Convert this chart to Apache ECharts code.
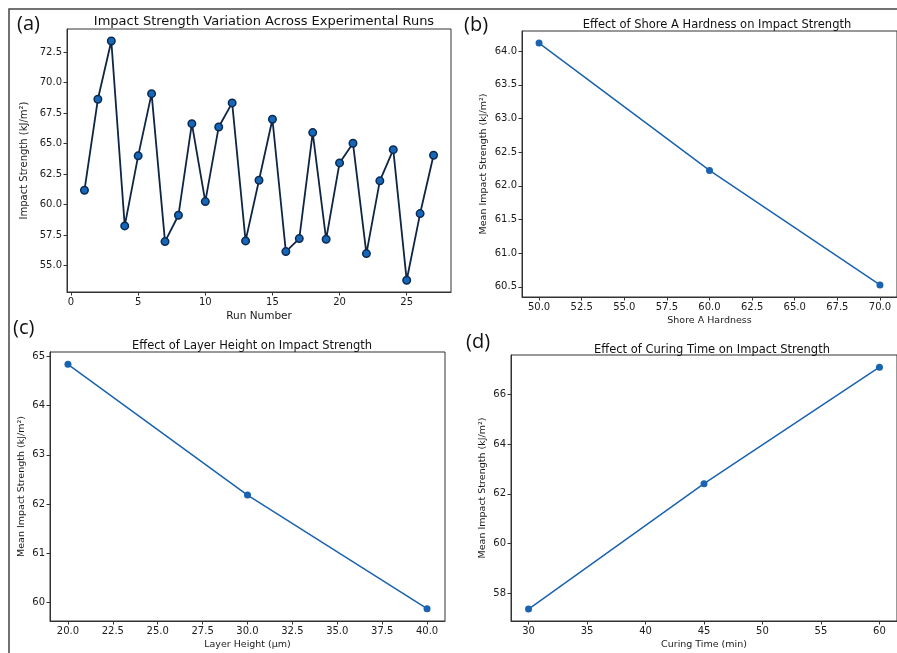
<!DOCTYPE html>
<html>
<head>
<meta charset="utf-8">
<script src="https://cdn.jsdelivr.net/npm/echarts@6/dist/echarts.min.js"></script>
<style>
  html, body { margin: 0; padding: 0; background: #fff; }
  #main { width: 897px; height: 653px; }
</style>
</head>
<body>
<div id="main"></div>
<script>
// (a) impact strength per run
var runNumbers = [1,2,3,4,5,6,7,8,9,10,11,12,13,14,15,16,17,18,19,20,21,22,23,24,25,26,27];
var runStrength = [61.16,68.62,73.40,58.24,63.98,69.08,56.95,59.11,66.62,60.23,66.35,68.32,57.01,61.98,
                   66.98,56.13,57.20,65.89,57.14,63.40,65.01,55.97,61.93,64.49,53.78,59.25,64.03];
var runXTicks = [0,5,10,15,20,25];
var runYTicks = [55,57.5,60,62.5,65,67.5,70,72.5];

// (b) shore A hardness
var hardness = [50,60,70];
var hardnessMean = [64.12,62.23,60.53];
var hardnessXTicks = [50,52.5,55,57.5,60,62.5,65,67.5,70];
var hardnessYTicks = [60.5,61,61.5,62,62.5,63,63.5,64];

// (c) layer height
var layerHeight = [20,30,40];
var layerMean = [64.84,62.18,59.87];
var layerXTicks = [20,22.5,25,27.5,30,32.5,35,37.5,40];
var layerYTicks = [60,61,62,63,64,65];

// (d) curing time
var curingTime = [30,45,60];
var curingMean = [57.38,62.41,67.08];
var curingXTicks = [30,35,40,45,50,55,60];
var curingYTicks = [58,60,62,64,66];

var FONT = 'DejaVu Sans';
var INK = '#1a1a1a';
var BLUE = '#1a63ae';

function pairs(xs, ys) {
    var out = [];
    for (var i = 0; i < xs.length; i++) out.push([xs[i], ys[i]]);
    return out;
}

function fmt(dec) {
    return function (v) { return dec ? v.toFixed(dec) : String(Math.round(v)); };
}

function xAxisFor(idx, min, max, ticks, dec, name, nameSize) {
    return {
        type: 'value', gridIndex: idx, min: min, max: max,
        name: name, nameLocation: 'middle', nameGap: 19,
        nameTextStyle: {fontFamily: FONT, fontSize: nameSize, color: INK},
        splitLine: {show: false},
        axisLine: {show: true, onZero: false, lineStyle: {color: '#333', width: 1}},
        axisTick: {show: true, length: 3.5, customValues: ticks, lineStyle: {color: '#333'}},
        axisLabel: {customValues: ticks, formatter: fmt(dec), fontFamily: FONT, fontSize: 10, color: INK, margin: 5}
    };
}

function yAxisFor(idx, min, max, ticks, dec, name, gap, nameSize) {
    return {
        type: 'value', gridIndex: idx, min: min, max: max,
        name: name, nameLocation: 'middle', nameGap: gap, nameRotate: 90,
        nameTextStyle: {fontFamily: FONT, fontSize: nameSize, color: INK},
        splitLine: {show: false},
        axisLine: {show: true, onZero: false, lineStyle: {color: '#333', width: 1}},
        axisTick: {show: true, length: 3.5, customValues: ticks, lineStyle: {color: '#333'}},
        axisLabel: {customValues: ticks, formatter: fmt(dec), fontFamily: FONT, fontSize: 10, color: INK, margin: 5}
    };
}

var gridBox = {show: true, borderColor: '#333', borderWidth: 1, backgroundColor: 'transparent'};

var chart = echarts.init(document.getElementById('main'));

var option = {
    animation: false,
    backgroundColor: '#fff',
    title: [
        {text: 'Impact Strength Variation Across Experimental Runs', left: 259, top: 10, textAlign: 'center',
         textStyle: {fontFamily: FONT, fontSize: 13, fontWeight: 'normal', color: '#111'}},
        {text: 'Effect of Shore A Hardness on Impact Strength', left: 712, top: 14, textAlign: 'center',
         textStyle: {fontFamily: FONT, fontSize: 11.5, fontWeight: 'normal', color: '#111'}},
        {text: 'Effect of Layer Height on Impact Strength', left: 247, top: 335, textAlign: 'center',
         textStyle: {fontFamily: FONT, fontSize: 11.5, fontWeight: 'normal', color: '#111'}},
        {text: 'Effect of Curing Time on Impact Strength', left: 707, top: 339, textAlign: 'center',
         textStyle: {fontFamily: FONT, fontSize: 11.5, fontWeight: 'normal', color: '#111'}}
    ],
    grid: [
        Object.assign({left: 67, top: 29, width: 384, height: 263}, gridBox),
        Object.assign({left: 522, top: 31, width: 381, height: 266}, gridBox),
        Object.assign({left: 50, top: 352, width: 395, height: 269}, gridBox),
        Object.assign({left: 511, top: 355, width: 392, height: 266}, gridBox)
    ],
    xAxis: [
        xAxisFor(0, -0.3, 28.3, runXTicks, 0, 'Run Number', 10.5),
        xAxisFor(1, 49, 71, hardnessXTicks, 1, 'Shore A Hardness', 9.5),
        xAxisFor(2, 19, 41, layerXTicks, 1, 'Layer Height (μm)', 9.5),
        xAxisFor(3, 28.5, 61.5, curingXTicks, 0, 'Curing Time (min)', 9.5)
    ],
    yAxis: [
        yAxisFor(0, 52.82, 74.38, runYTicks, 1, 'Impact Strength (kJ/m²)', 38, 10),
        yAxisFor(1, 60.35, 64.30, hardnessYTicks, 1, 'Mean Impact Strength (kJ/m²)', 33, 9.5),
        yAxisFor(2, 59.62, 65.09, layerYTicks, 0, 'Mean Impact Strength (kJ/m²)', 23, 9.5),
        yAxisFor(3, 56.9, 67.57, curingYTicks, 0, 'Mean Impact Strength (kJ/m²)', 23, 9.5)
    ],
    series: [
        {type: 'line', xAxisIndex: 0, yAxisIndex: 0, data: pairs(runNumbers, runStrength),
         symbol: 'circle', symbolSize: 7.5,
         lineStyle: {color: '#0f2545', width: 1.8},
         itemStyle: {color: '#1767b8', borderColor: '#0b2a52', borderWidth: 1.5}},
        {type: 'line', xAxisIndex: 1, yAxisIndex: 1, data: pairs(hardness, hardnessMean),
         symbol: 'circle', symbolSize: 7, lineStyle: {color: BLUE, width: 1.5}, itemStyle: {color: BLUE}},
        {type: 'line', xAxisIndex: 2, yAxisIndex: 2, data: pairs(layerHeight, layerMean),
         symbol: 'circle', symbolSize: 7, lineStyle: {color: BLUE, width: 1.5}, itemStyle: {color: BLUE}},
        {type: 'line', xAxisIndex: 3, yAxisIndex: 3, data: pairs(curingTime, curingMean),
         symbol: 'circle', symbolSize: 7, lineStyle: {color: BLUE, width: 1.5}, itemStyle: {color: BLUE}}
    ],
    graphic: [
        // outer frame (top and left edges only, the rest is cropped)
        {type: 'polyline', shape: {points: [[9, 653], [9, 9], [897, 9]]},
         style: {stroke: '#444', lineWidth: 1.5, fill: null}},
        {type: 'text', left: 17, top: 14, style: {text: '(a)', font: '20px "Open Sans"', fill: '#111'}},
        {type: 'text', left: 464, top: 15, style: {text: '(b)', font: '20px "Open Sans"', fill: '#111'}},
        {type: 'text', left: 13, top: 318, style: {text: '(c)', font: '20px "Open Sans"', fill: '#111'}},
        {type: 'text', left: 466, top: 332, style: {text: '(d)', font: '20px "Open Sans"', fill: '#111'}}
    ]
};

chart.setOption(option);
</script>
</body>
</html>
